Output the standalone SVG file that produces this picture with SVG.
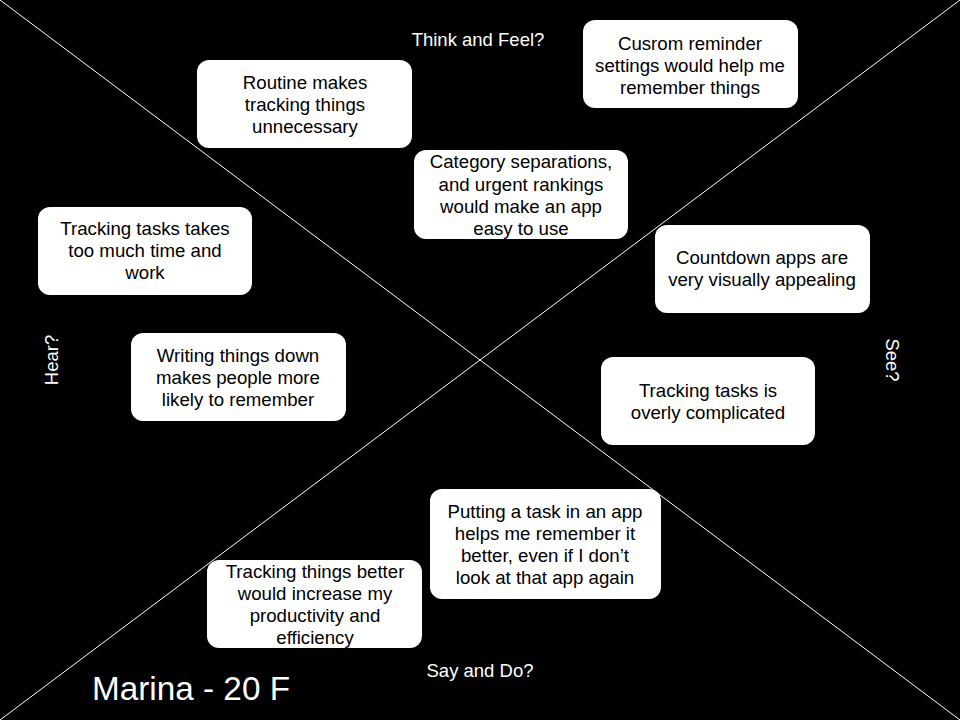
<svg xmlns="http://www.w3.org/2000/svg" width="960" height="720" viewBox="0 0 960 720">
<style>
.box{fill:#fff;stroke:none}
.t{font-family:"Liberation Sans",Arial,sans-serif;font-size:18.67px;fill:#000;text-anchor:middle}
.lbl{font-family:"Liberation Sans",Arial,sans-serif;font-size:18.5px;fill:#fff;text-anchor:middle}
.ln{stroke:#fff;stroke-width:1;fill:none}
</style>
<rect x="0" y="0" width="960" height="720" fill="#000"/>
<g id="connectors">
<line class="ln" x1="0" y1="0" x2="960" y2="720"/>
<line class="ln" x1="960" y1="0" x2="0" y2="720"/>
</g>
<g id="labels">
<text class="lbl" x="478" y="46">Think and Feel?</text>
<text class="lbl" x="480" y="677">Say and Do?</text>
<text class="lbl" transform="translate(58,360) rotate(-90)">Hear?</text>
<text class="lbl" transform="translate(886,360) rotate(90)">See?</text>
<text x="92" y="700" font-family="Liberation Sans,Arial,sans-serif" font-size="33.3" fill="#fff">Marina - 20 F</text>
</g>
<g id="n1"><rect class="box" x="197" y="60" width="215" height="88" rx="12"/>
<text class="t"><tspan x="305" y="89">Routine makes</tspan><tspan x="305" y="111">tracking things</tspan><tspan x="305" y="133">unnecessary</tspan></text></g>
<g id="n2"><rect class="box" x="583" y="20" width="215" height="88" rx="12"/>
<text class="t"><tspan x="690" y="50">Cusrom reminder</tspan><tspan x="690" y="72">settings would help me</tspan><tspan x="690" y="94">remember things</tspan></text></g>
<g id="n3"><rect class="box" x="414" y="150" width="214" height="89" rx="12"/>
<text class="t"><tspan x="521" y="168">Category separations,</tspan><tspan x="521" y="191">and urgent rankings</tspan><tspan x="521" y="213">would make an app</tspan><tspan x="521" y="235">easy to use</tspan></text></g>
<g id="n4"><rect class="box" x="38" y="207" width="214" height="88" rx="12"/>
<text class="t"><tspan x="145" y="235">Tracking tasks takes</tspan><tspan x="145" y="257">too much time and</tspan><tspan x="145" y="279">work</tspan></text></g>
<g id="n5"><rect class="box" x="655" y="225" width="215" height="88" rx="12"/>
<text class="t"><tspan x="762" y="264">Countdown apps are</tspan><tspan x="762" y="286">very visually appealing</tspan></text></g>
<g id="n6"><rect class="box" x="131" y="333" width="215" height="88" rx="12"/>
<text class="t"><tspan x="238" y="362">Writing things down</tspan><tspan x="238" y="384">makes people more</tspan><tspan x="238" y="406">likely to remember</tspan></text></g>
<g id="n7"><rect class="box" x="601" y="357" width="214" height="88" rx="12"/>
<text class="t"><tspan x="708" y="397">Tracking tasks is</tspan><tspan x="708" y="419">overly complicated</tspan></text></g>
<g id="n8"><rect class="box" x="430" y="489" width="231" height="110" rx="12"/>
<text class="t"><tspan x="545" y="518">Putting a task in an app</tspan><tspan x="545" y="540">helps me remember it</tspan><tspan x="545" y="562">better, even if I don’t</tspan><tspan x="545" y="584">look at that app again</tspan></text></g>
<g id="n9"><rect class="box" x="207" y="560" width="215" height="88" rx="12"/>
<text class="t"><tspan x="315" y="578">Tracking things better</tspan><tspan x="315" y="600">would increase my</tspan><tspan x="315" y="622">productivity and</tspan><tspan x="315" y="644">efficiency</tspan></text></g>
</svg>
